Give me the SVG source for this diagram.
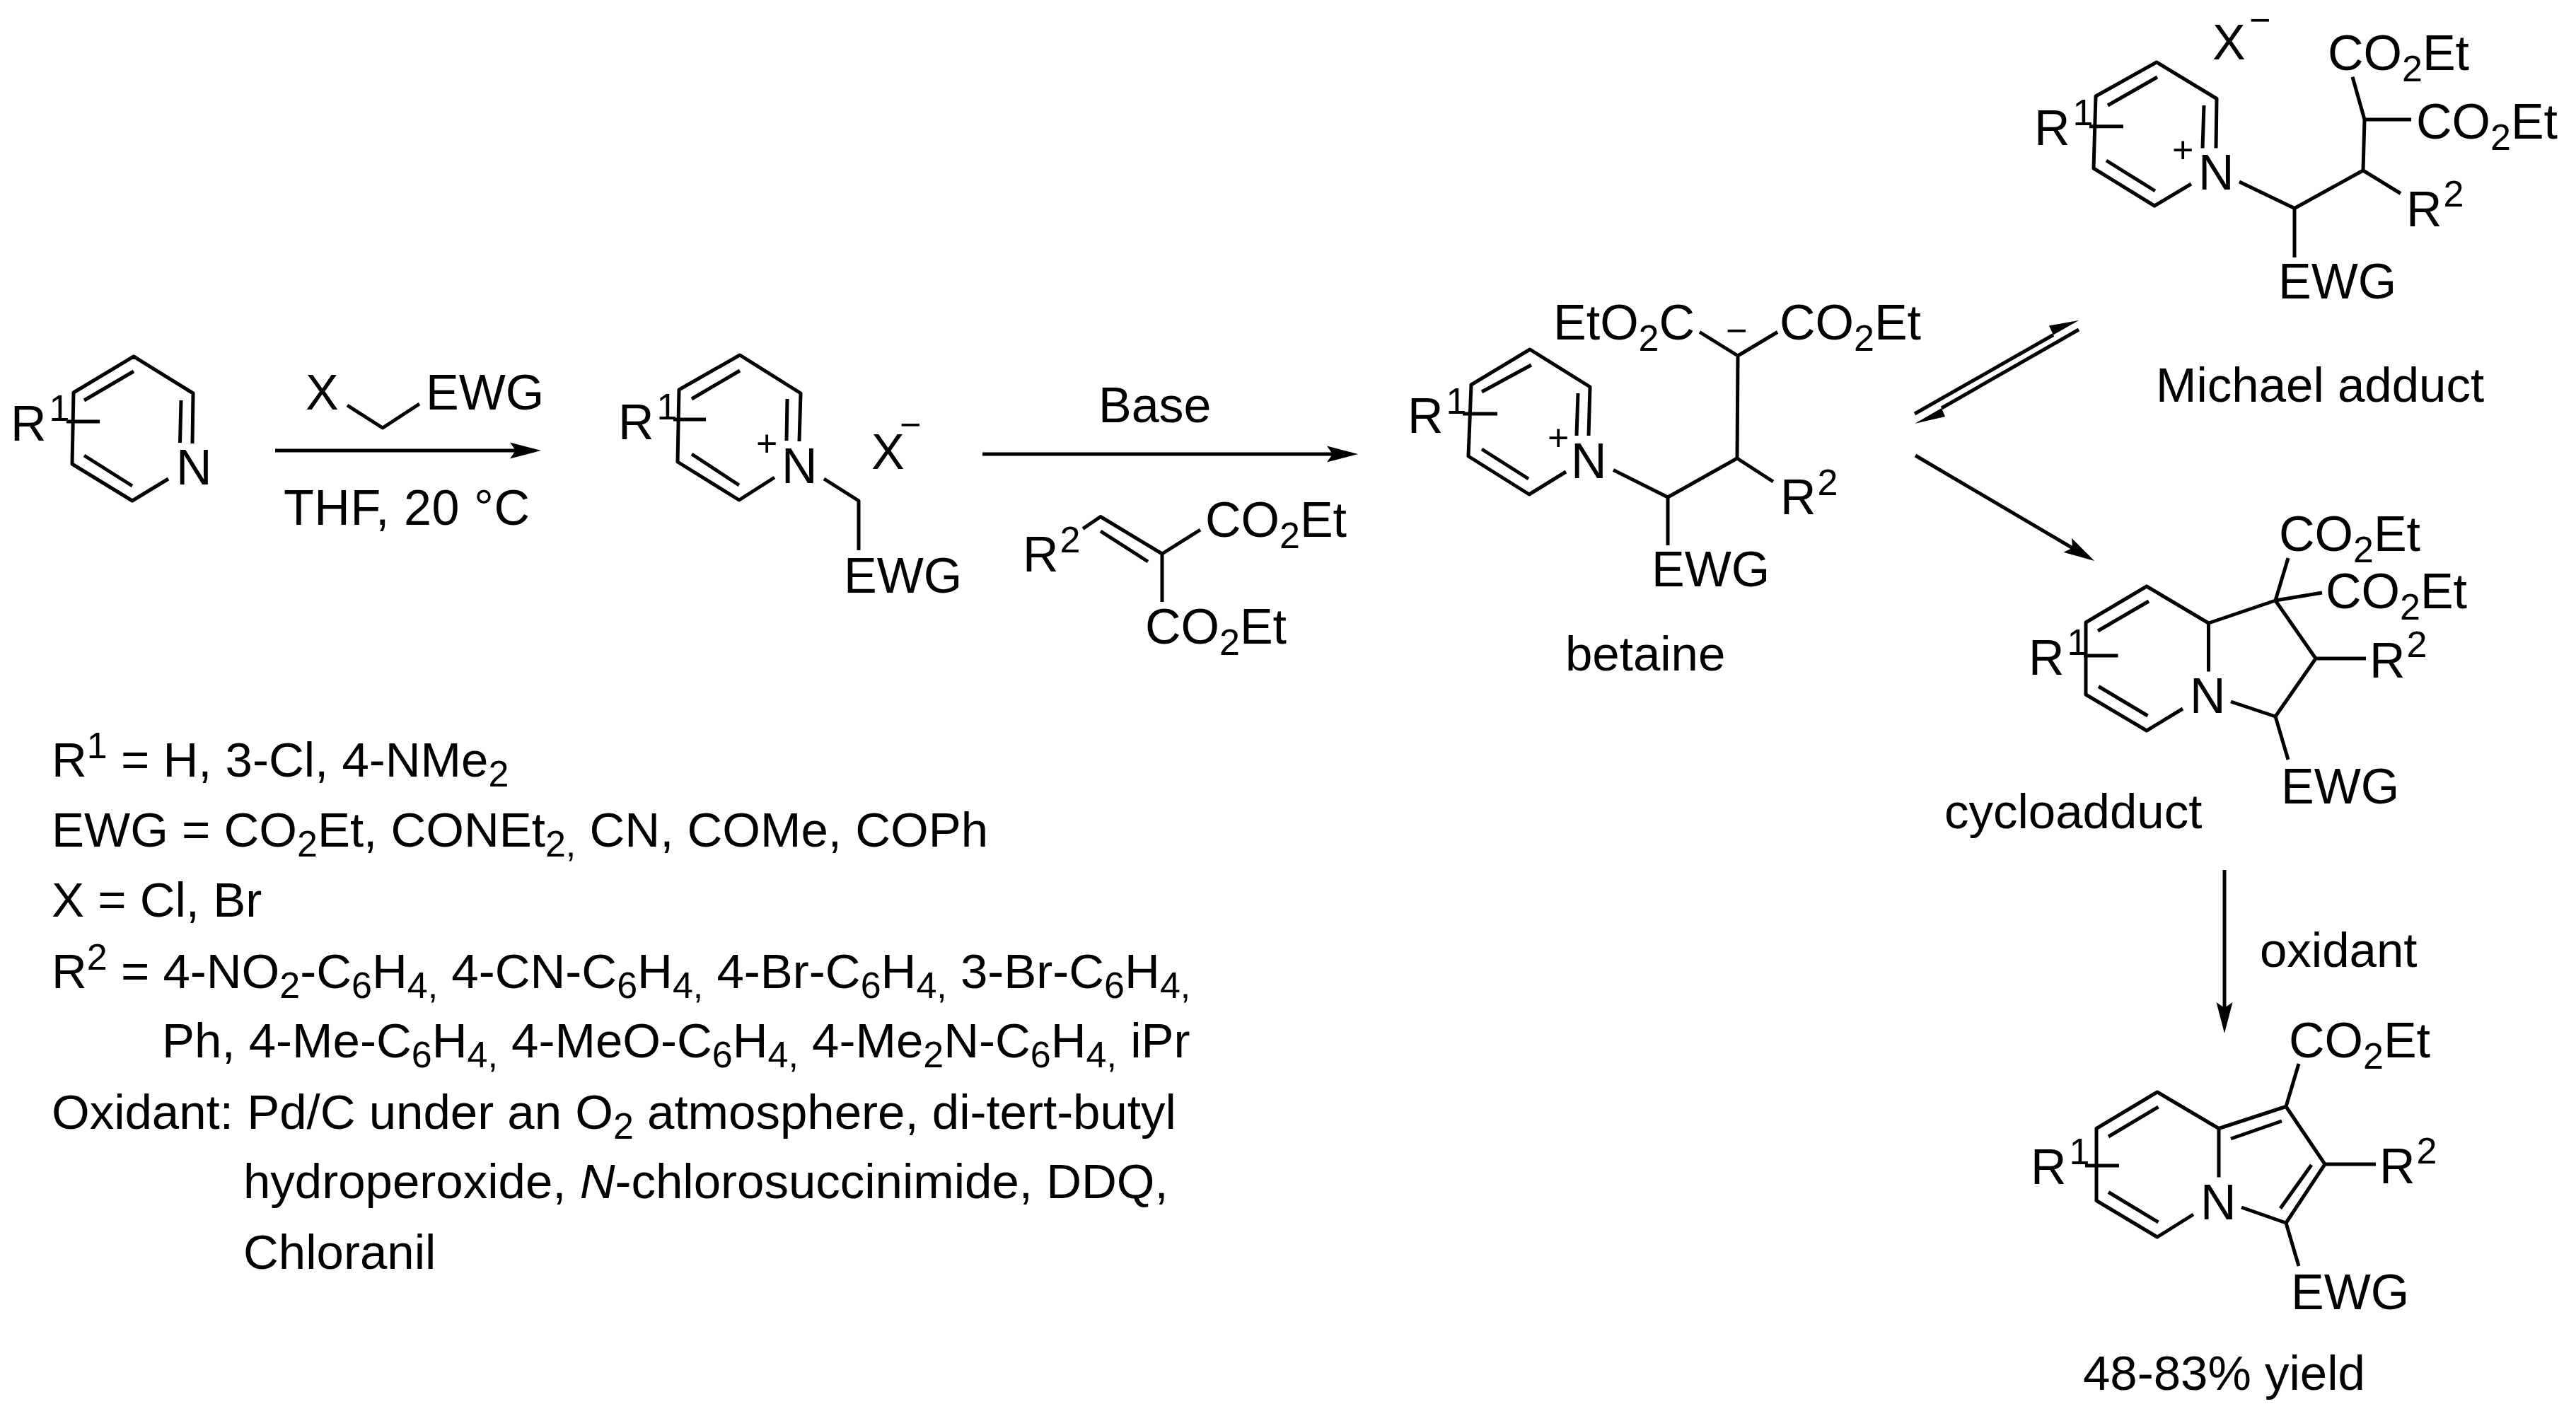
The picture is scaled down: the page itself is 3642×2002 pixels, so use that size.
<svg xmlns="http://www.w3.org/2000/svg" width="3642" height="2002" viewBox="0 0 3642 2002">
<style>
text{font-family:"Liberation Sans",Arial,sans-serif;font-size:70px;fill:#000;white-space:pre}
.s{font-size:52px}
.i{font-style:italic}
.l text,text.l{font-size:69px}
.l .s{font-size:52px}
.b{fill:none;stroke:#000;stroke-width:5;stroke-linejoin:round}
.a{fill:none;stroke:#000;stroke-width:5}
.h{fill:#000;stroke:none}
</style>
<defs>
<marker id="head" markerUnits="userSpaceOnUse" viewBox="0 0 44 24" markerWidth="44" markerHeight="24" refX="34" refY="12" orient="auto"><path class="h" d="M44 12L0 0.5L8 12L0 23.5Z"/></marker>
</defs>
<rect width="3642" height="2002" fill="#fff"/>
<g id="connectors">
<path class="a" d="M389 637H755" marker-end="url(#head)"/>
<path class="a" d="M1389 642H1910" marker-end="url(#head)"/>
<path class="a" d="M2708 644L2952.500 788" marker-end="url(#head)"/>
<path class="a" d="M3145 1230V1451" marker-end="url(#head)"/>
<path class="b" d="M2707 585L2903 473.500"/><polygon class="h" points="2939,453 2897,460.500 2903,473.500"/>
<path class="b" d="M2939 466L2745 577"/><polygon class="h" points="2707,599 2750,589 2745,577"/>
</g>
<g id="reagent-halide">
<path class="b" d="M491 573L541 605L593 571"/>
<text x="432" y="579">X</text><text x="602" y="579">EWG</text>
<text x="401" y="742" textLength="348">THF, 20 °C</text>
</g>
<g id="reagent-base"><text x="1553" y="597">Base</text></g>
<g id="pyridine">
<path class="b" d="M238 677L187 708L102 656L104 555L189 504L273 556L272 627M119 566L189 525M119 644L187 687M256 566L254.500 626M94 596H141"/>
<text x="15" y="623">R<tspan class="s" y="595" dx="4">1</tspan></text>
<text x="249" y="685">N</text>
</g>
<g id="pyridinium-salt">
<path class="b" d="M1095 675L1045 707L958 653L960 551L1046 502L1132 556L1130 624M978 564L1046 524M978 642L1045 686M1113 564L1112 623M952 593H998M1165 677L1214 708V778"/>
<text x="874" y="621">R<tspan class="s" y="593" dx="4">1</tspan></text>
<text class="s" x="1069" y="645">+</text>
<text x="1105" y="683">N</text>
<text x="1232" y="663">X</text><text class="s" x="1272" y="618">−</text>
<text x="1193" y="838">EWG</text>
</g>
<g id="alkylidene-malonate">
<path class="b" d="M1531 747.500L1556 730.500L1643 783L1697 749M1556 751L1623 794M1643 783V851"/>
<text x="1446" y="808">R<tspan class="s" y="781" dx="2">2</tspan></text>
<text x="1704" y="759">CO<tspan class="s" y="775">2</tspan><tspan y="759">Et</tspan></text>
<text x="1619" y="910">CO<tspan class="s" y="926">2</tspan><tspan y="910">Et</tspan></text>
</g>
<g id="betaine">
<path class="b" d="M2214 667L2162 699L2076 645L2080 544L2163 494L2248 547L2246 616M2095 554L2165 516M2095 635L2161 677M2231 556L2229 616M2068 585H2117M2281 664.500L2358 703L2456 648L2507 681M2358 703V771M2456 648L2457 503L2403 469.500M2457 503L2513 469.500"/>
<text x="1990" y="612">R<tspan class="s" y="585" dx="4">1</tspan></text>
<text class="s" x="2188" y="637">+</text>
<text x="2221" y="676">N</text>
<text x="2335" y="829">EWG</text>
<text x="2517" y="727">R<tspan class="s" y="700" dx="2">2</tspan></text>
<text class="s" x="2440" y="485">−</text>
<text x="2196" y="480">EtO<tspan class="s" y="496">2</tspan><tspan y="480">C</tspan></text>
<text x="2516" y="480">CO<tspan class="s" y="496">2</tspan><tspan y="480">Et</tspan></text>
<text class="l" x="2213" y="948">betaine</text>
</g>
<g id="michael-adduct">
<path class="b" d="M3098 260L3046 291L2960 238L2963 136L3049 88L3134 139.500L3133 209.500M2980 149L3050 109M2978 227L3047 270M3116 149L3114 209.500M2954 178.700H3002M3166 257L3244 294.500L3341 241L3394 273.500M3244 294.500V364M3341 241L3343 169L3326 108.700M3343 169H3409"/>
<text x="2876" y="205">R<tspan class="s" y="177" dx="4">1</tspan></text>
<text class="s" x="3071" y="230">+</text>
<text x="3108" y="268">N</text>
<text x="3128" y="84">X</text><text class="s" x="3180" y="46">−</text>
<text x="3291" y="99">CO<tspan class="s" y="115">2</tspan><tspan y="99">Et</tspan></text>
<text x="3416" y="196">CO<tspan class="s" y="212">2</tspan><tspan y="196">Et</tspan></text>
<text x="3402" y="320">R<tspan class="s" y="292" dx="2">2</tspan></text>
<text x="3221" y="422">EWG</text>
<text class="l" x="3048" y="568">Michael adduct</text>
</g>
<g id="cycloadduct">
<path class="b" d="M3086 1002L3035 1033L2949 982V880L3035 829L3122.500 881V949.600M2966 892L3038 850M2967 970.500L3036.500 1012M3122.500 881L3217 849L3274 931L3217 1013L3154 992M3217 1013L3235 1074M3217 849L3235 789M3217 849L3283 838M3274 931H3345M2946 927H2994.500"/>
<text x="2868" y="954">R<tspan class="s" y="926" dx="4">1</tspan></text>
<text x="3096" y="1008">N</text>
<text x="3222" y="779">CO<tspan class="s" y="795">2</tspan><tspan y="779">Et</tspan></text>
<text x="3288" y="860">CO<tspan class="s" y="876">2</tspan><tspan y="860">Et</tspan></text>
<text x="3350" y="958">R<tspan class="s" y="929" dx="2">2</tspan></text>
<text x="3225" y="1136">EWG</text>
<text class="l" x="2749" y="1171">cycloadduct</text>
</g>
<g id="oxidant-label"><text class="l" x="3195" y="1367">oxidant</text></g>
<g id="indolizine">
<path class="b" d="M3101 1717L3050 1749L2964 1697.500V1595.500L3050 1544L3137 1595.500V1664.500M2981 1607L3051.500 1565M2981 1685.500L3051.500 1728M3137 1595.500L3232 1564.500L3287 1646L3232 1729L3169 1707M3154 1610L3226 1585M3268 1647L3224 1708.500M3232 1564.500L3250 1504M3232 1729L3250 1790M3287 1646H3359M2948 1648H2996"/>
<text x="2871" y="1674">R<tspan class="s" y="1646" dx="4">1</tspan></text>
<text x="3111" y="1724">N</text>
<text x="3236" y="1495">CO<tspan class="s" y="1511">2</tspan><tspan y="1495">Et</tspan></text>
<text x="3364" y="1673">R<tspan class="s" y="1645" dx="2">2</tspan></text>
<text x="3239" y="1851">EWG</text>
<text class="l" x="2945" y="1965">48-83% yield</text>
</g>
<g id="legend" class="l">
<text x="73" y="1098">R<tspan class="s" y="1072">1</tspan><tspan y="1098"> = H, 3-Cl, 4-NMe</tspan><tspan class="s" y="1112">2</tspan></text>
<text x="73" y="1197">EWG = CO<tspan class="s" y="1211">2</tspan><tspan y="1197">Et, CONEt</tspan><tspan class="s" y="1211">2,</tspan><tspan y="1197"> CN, COMe, COPh</tspan></text>
<text x="73" y="1296">X = Cl, Br</text>
<text x="73" y="1397">R<tspan class="s" y="1371">2</tspan><tspan y="1397"> = 4-NO</tspan><tspan class="s" y="1411">2</tspan><tspan y="1397">-C</tspan><tspan class="s" y="1411">6</tspan><tspan y="1397">H</tspan><tspan class="s" y="1411">4,</tspan><tspan y="1397"> 4-CN-C</tspan><tspan class="s" y="1411">6</tspan><tspan y="1397">H</tspan><tspan class="s" y="1411">4,</tspan><tspan y="1397"> 4-Br-C</tspan><tspan class="s" y="1411">6</tspan><tspan y="1397">H</tspan><tspan class="s" y="1411">4,</tspan><tspan y="1397"> 3-Br-C</tspan><tspan class="s" y="1411">6</tspan><tspan y="1397">H</tspan><tspan class="s" y="1411">4,</tspan></text>
<text x="229" y="1495">Ph, 4-Me-C<tspan class="s" y="1509">6</tspan><tspan y="1495">H</tspan><tspan class="s" y="1509">4,</tspan><tspan y="1495"> 4-MeO-C</tspan><tspan class="s" y="1509">6</tspan><tspan y="1495">H</tspan><tspan class="s" y="1509">4,</tspan><tspan y="1495"> 4-Me</tspan><tspan class="s" y="1509">2</tspan><tspan y="1495">N-C</tspan><tspan class="s" y="1509">6</tspan><tspan y="1495">H</tspan><tspan class="s" y="1509">4,</tspan><tspan y="1495"> iPr</tspan></text>
<text x="73" y="1596">Oxidant: Pd/C under an O<tspan class="s" y="1610">2</tspan><tspan y="1596"> atmosphere, di-tert-butyl</tspan></text>
<text x="344" y="1694">hydroperoxide, <tspan class="i">N</tspan>-chlorosuccinimide, DDQ,</text>
<text x="344" y="1794">Chloranil</text>
</g>
</svg>
